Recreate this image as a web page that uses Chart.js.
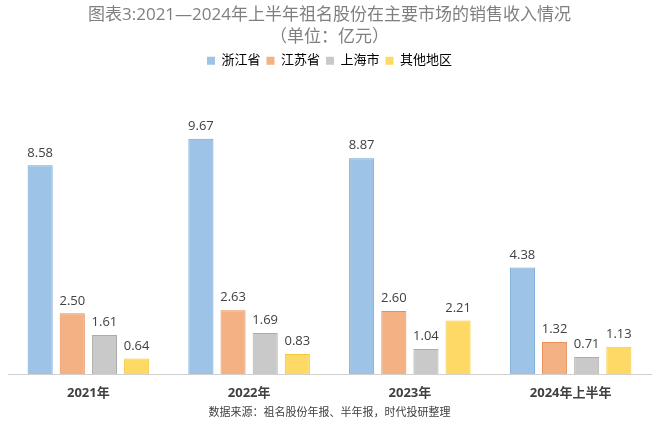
<!DOCTYPE html>
<html>
<head>
<meta charset="utf-8">
<script src="https://cdn.jsdelivr.net/npm/chart.js@4"></script>
<style>
  html, body { margin: 0; padding: 0; background: #fff; }
  #wrap { width: 660px; height: 427px; }
</style>
</head>
<body>
<div id="wrap"><canvas id="chart"></canvas></div>
<script>
var years = ['2021年', '2022年', '2023年', '2024年上半年'];
var zhejiang = [8.58, 9.67, 8.87, 4.38];
var jiangsu = [2.50, 2.63, 2.60, 1.32];
var shanghai = [1.61, 1.69, 1.04, 0.71];
var others = [0.64, 0.83, 2.21, 1.13];

var cjk = '"Open Sans", "Noto Sans CJK SC", sans-serif';

function series(label, data, fill, border) {
    return {
        label: label,
        data: data,
        backgroundColor: fill,
        borderColor: border,
        borderWidth: 1,
        categoryPercentage: 0.8,
        barPercentage: 0.78
    };
}

// value labels above bars
var valueLabels = {
    id: 'valueLabels',
    afterDatasetsDraw: function(chart) {
        var ctx = chart.ctx;
        ctx.save();
        ctx.font = '13px ' + cjk;
        ctx.fillStyle = '#404040';
        ctx.textAlign = 'center';
        ctx.textBaseline = 'bottom';
        chart.data.datasets.forEach(function(ds, i) {
            chart.getDatasetMeta(i).data.forEach(function(bar, j) {
                ctx.fillText(ds.data[j].toFixed(2), bar.x, bar.y - 6);
            });
        });
        ctx.restore();
    }
};

var chart = new Chart(document.getElementById('chart'), {
    type: 'bar',
    data: {
        labels: years,
        datasets: [
            series('浙江省', zhejiang, '#9dc3e6', '#6fa3d6'),
            series('江苏省', jiangsu, '#f4b183', '#e9905a'),
            series('上海市', shanghai, '#c9c9c9', '#acacac'),
            series('其他地区', others, '#ffd966', '#f5c842')
        ]
    },
    options: {
        animation: false,
        responsive: true,
        maintainAspectRatio: false,
        layout: { padding: { left: 8, right: 9, top: 4, bottom: 8 } },
        plugins: {
            title: {
                display: true,
                text: ['图表3:2021—2024年上半年祖名股份在主要市场的销售收入情况', '（单位：亿元）'],
                color: '#7f7f7f',
                font: { family: cjk, size: 17, weight: 'normal', lineHeight: 1.3 },
                padding: { top: 0, bottom: 0 }
            },
            subtitle: {
                display: true,
                position: 'bottom',
                text: '数据来源：祖名股份年报、半年报，时代投研整理',
                color: '#404040',
                font: { family: cjk, size: 11 },
                padding: { top: 2, bottom: 0 }
            },
            legend: {
                display: true,
                labels: {
                    boxWidth: 8,
                    boxHeight: 8,
                    color: '#595959',
                    font: { family: cjk, size: 13 },
                    padding: 6,
                    generateLabels: function(c) {
                        return c.data.datasets.map(function(ds, i) {
                            return { text: ds.label, fillStyle: ds.backgroundColor, strokeStyle: ds.backgroundColor, lineWidth: 0, datasetIndex: i };
                        });
                    }
                }
            },
            tooltip: { enabled: false }
        },
        scales: {
            x: {
                grid: { display: false },
                border: { display: true, color: '#d0d0d0', width: 1 },
                ticks: { color: '#404040', font: { family: cjk, size: 13, weight: 'bold' }, padding: 3 }
            },
            y: {
                display: false,
                min: 0,
                max: 12.2
            }
        }
    },
    plugins: [valueLabels]
});
</script>
</body>
</html>
